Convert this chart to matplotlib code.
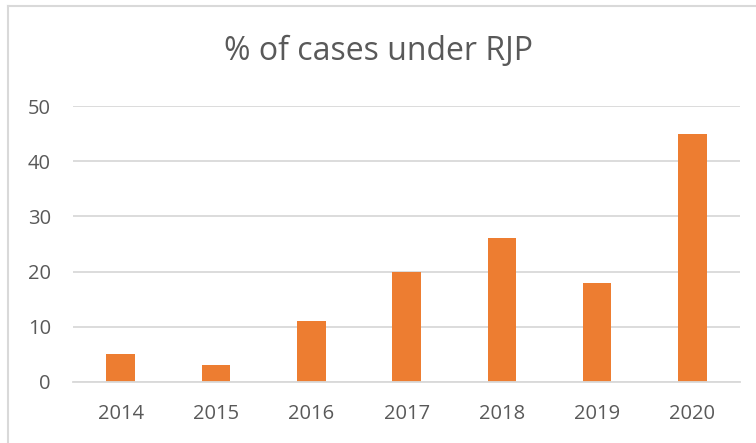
import matplotlib.pyplot as plt
from matplotlib.lines import Line2D

years = ['2014', '2015', '2016', '2017', '2018', '2019', '2020']
pct_rjp = [5, 3, 11, 20, 26, 18, 45]
y_ticks = [0, 10, 20, 30, 40, 50]

plt.rcParams['font.family'] = ['Open Sans', 'DejaVu Sans']
text_color = '#595959'
grid_color = '#D9D9D9'

fig = plt.figure(figsize=(7.56, 4.43), dpi=100)
ax = fig.add_axes([0.0966, 0.1377, 0.8824, 0.623])

x = range(len(years))
ax.bar(x, pct_rjp, width=0.30, color='#ED7D31', zorder=3)

ax.set_xlim(-0.5, len(years) - 0.5)
ax.set_ylim(0, 50)
ax.set_yticks(y_ticks)
ax.set_xticks(list(x))
ax.set_xticklabels(years)
ax.tick_params(axis='both', length=0, labelsize=14.5, colors=text_color)
ax.tick_params(axis='x', pad=16)
ax.tick_params(axis='y', pad=16)
ax.grid(axis='y', color=grid_color, linewidth=1.3, zorder=0)
for side in ['top', 'right', 'left']:
    ax.spines[side].set_visible(False)
ax.spines['bottom'].set_color(grid_color)
ax.spines['bottom'].set_linewidth(1.3)
ax.spines['bottom'].set_zorder(4)

fig.text(0.5, 0.884, '% of cases under RJP', ha='center', va='center',
         fontsize=23, color=text_color)

# chart area border (only top and left visible in the crop)
fig.add_artist(Line2D([8 / 756, 1.0], [1 - 6 / 443, 1 - 6 / 443],
                      transform=fig.transFigure, color=grid_color, lw=1.5))
fig.add_artist(Line2D([8 / 756, 8 / 756], [0, 1 - 6 / 443],
                      transform=fig.transFigure, color=grid_color, lw=1.5))

fig.savefig('out.png', dpi=100)
